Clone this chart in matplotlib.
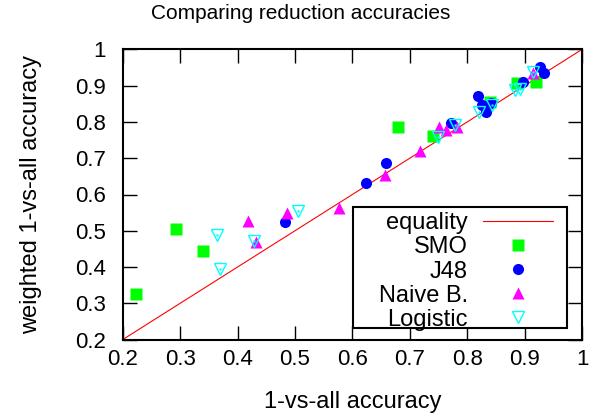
import matplotlib
matplotlib.use("Agg")
import matplotlib.pyplot as plt
from matplotlib.patches import Rectangle
import numpy as np

plt.rcParams['font.family'] = ['Liberation Sans', 'DejaVu Sans']

title = "Comparing reduction accuracies"
xlabel = "1-vs-all accuracy"
ylabel = "weighted 1-vs-all accuracy"
ticks = [0.2, 0.3, 0.4, 0.5, 0.6, 0.7, 0.8, 0.9, 1.0]
tick_labels = ["0.2", "0.3", "0.4", "0.5", "0.6", "0.7", "0.8", "0.9", "1"]

smo_x = [0.223, 0.292, 0.339, 0.680, 0.741, 0.839, 0.886, 0.920]
smo_y = [0.325, 0.504, 0.444, 0.785, 0.762, 0.854, 0.906, 0.910]

j48_x = [0.482, 0.623, 0.658, 0.772, 0.818, 0.825, 0.832, 0.842, 0.898, 0.927, 0.934]
j48_y = [0.525, 0.631, 0.686, 0.796, 0.871, 0.846, 0.828, 0.851, 0.909, 0.952, 0.935]

nb_x = [0.419, 0.433, 0.486, 0.576, 0.657, 0.718, 0.751, 0.763, 0.782, 0.914]
nb_y = [0.528, 0.470, 0.548, 0.563, 0.653, 0.720, 0.787, 0.777, 0.787, 0.934]

log_x = [0.364, 0.370, 0.429, 0.506, 0.750, 0.779, 0.821, 0.844, 0.883, 0.892, 0.914]
log_y = [0.488, 0.394, 0.472, 0.554, 0.759, 0.791, 0.828, 0.846, 0.888, 0.890, 0.938]

labels = ["equality", "SMO", "J48", "Naive B.", "Logistic"]

FS = 16
LFS = 17
TFS = 15
fig = plt.figure(figsize=(6.02, 4.17), dpi=100)
ax = fig.add_axes([122.7/602, (417-339.6)/417, (582-122.7)/602, (339.6-49.4)/417])

ax.plot([0.2, 1.0], [0.2, 1.0], color='#ff0000', lw=0.8, zorder=2)
ms = 8
ax.plot(smo_x, smo_y, 's', color='#00ff00', ms=ms, mec='none', zorder=3, clip_on=False)
ax.plot(j48_x, j48_y, 'o', color='#0000ff', ms=ms, mec='none', zorder=4, clip_on=False)
ax.plot(nb_x, nb_y, '^', color='#ff00ff', ms=ms, mec='none', zorder=5, clip_on=False)
ax.plot(log_x, log_y, 'v', color='#00ffff', ms=ms, mfc='none', mew=1.0, zorder=6, clip_on=False)
ax.plot(log_x, log_y, '.', color='#00ffff', ms=1.5, zorder=6, clip_on=False)

ax.set_xlim(0.2, 1.0)
ax.set_ylim(0.2, 1.0)
ax.set_xticks(ticks)
ax.set_xticklabels(tick_labels)
ax.set_yticks(ticks)
ax.set_yticklabels(tick_labels)
ax.tick_params(direction='in', length=10, width=1.0, top=True, right=True,
               labelsize=FS, pad=7, color='black')
ax.tick_params(axis='y', pad=12)
for s in ax.spines.values():
    s.set_linewidth(1.5)

fig.text(0.5, 1 - 13.5/417, title, fontsize=TFS, ha='center', va='center')
ax.set_xlabel(xlabel, fontsize=LFS, labelpad=15)
ax.set_ylabel(ylabel, fontsize=LFS, labelpad=24)

# gnuplot-style legend (right-aligned text, samples to the right)
x0, x1, y0, y1 = 0.5008, 0.968, 0.039, 0.456
ax.add_patch(Rectangle((x0, y0), x1 - x0, y1 - y0, transform=ax.transAxes,
                       facecolor='white', edgecolor='black', lw=1.5, zorder=7))
rows = [0.4097 - i * (0.4097 - 0.0768) / 4 for i in range(5)]
tx, mx = 0.751, 0.860
for lab, ry in zip(labels, rows):
    ax.text(tx, ry, lab, transform=ax.transAxes, ha='right', va='center_baseline',
            fontsize=LFS, zorder=8)
ax.plot([0.785, 0.936], [rows[0], rows[0]], color='#ff0000', lw=0.8,
        transform=ax.transAxes, zorder=8, clip_on=False)
ax.plot([mx], [rows[1]], 's', color='#00ff00', ms=ms, mec='none', transform=ax.transAxes, zorder=8)
ax.plot([mx], [rows[2]], 'o', color='#0000ff', ms=ms, mec='none', transform=ax.transAxes, zorder=8)
ax.plot([mx], [rows[3]], '^', color='#ff00ff', ms=ms, mec='none', transform=ax.transAxes, zorder=8)
ax.plot([mx], [rows[4]], 'v', color='#00ffff', ms=ms, mfc='none', mew=1.0, transform=ax.transAxes, zorder=8)

fig.savefig("out.png", dpi=100)
